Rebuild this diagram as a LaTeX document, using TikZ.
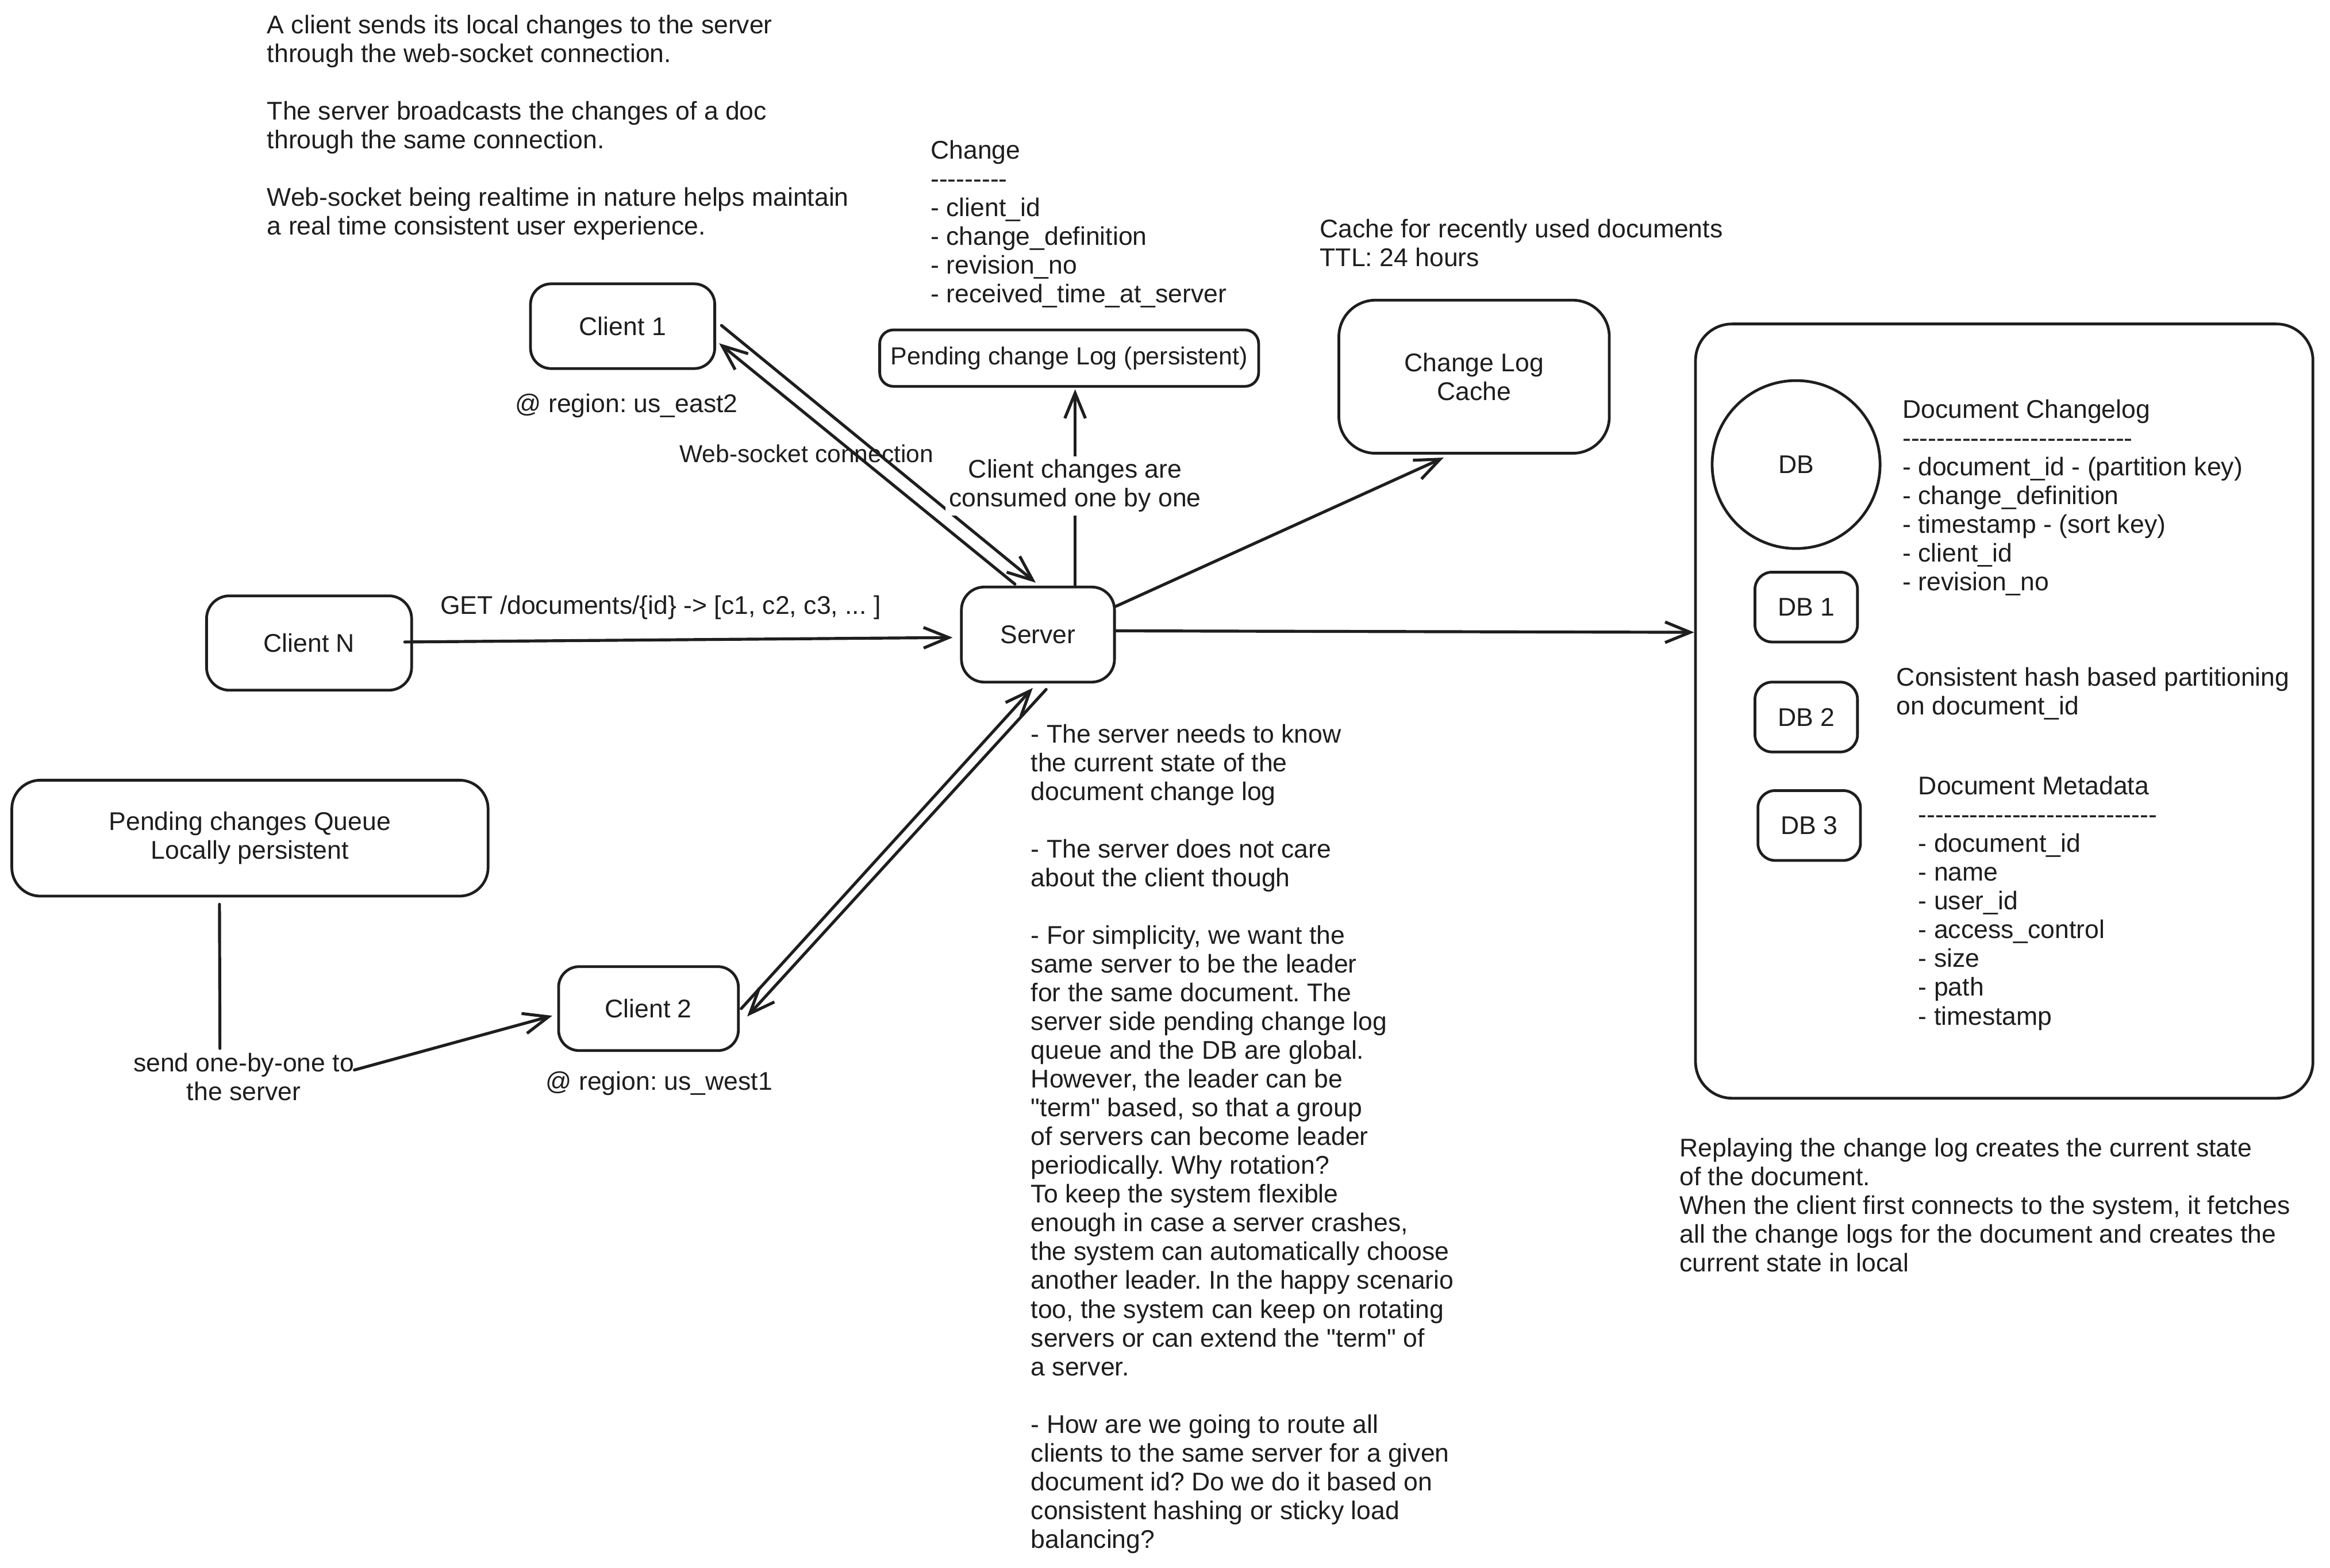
\documentclass[tikz,border=0pt]{standalone}
\usepackage{fontspec}
\newfontfamily\hand{Liberation Sans}
\usetikzlibrary{arrows.meta,calc}
\definecolor{ink}{HTML}{1E1E1E}
\frenchspacing
\begin{document}
\begin{tikzpicture}[x=0.65pt,y=-0.65pt,
  every node/.style={font=\hand\fontsize{11.2}{12.58}\selectfont, inner sep=0pt, text=ink},
  box/.style={draw=ink, line width=1.2pt, fill=white, rounded corners=#1, align=center},
  conn/.style={draw=ink, line width=1.3pt, line cap=round},
  arr/.style={conn, -{Straight Barb[length=11pt,width=9pt]}},
  txt/.style={align=left, anchor=north west},
  lbl/.style={anchor=base west}]
\useasboundingbox[fill=white] (0,0) rectangle (1568,1055);

% ---------- boxes ----------
\node[box=9pt, minimum width=124*0.65pt, minimum height=57*0.65pt] (client1) at (419,219.5) {Client 1};
\node[box=6pt, minimum width=255*0.65pt, minimum height=38*0.65pt, font=\hand\fontsize{10.8}{12.58}\selectfont] (pendlog) at (719.5,241) {Pending change Log (persistent)};
\node[box=16pt, minimum width=182*0.65pt, minimum height=103*0.65pt] (cache) at (992,253.5) {Change Log\\Cache};
\node[box=16pt, minimum width=415.5*0.65pt, minimum height=521*0.65pt] (dbbox) at (1348.75,478.5) {};
\node[draw=ink, line width=1.2pt, circle, fill=white, minimum size=113*0.65pt] (dbc) at (1208.7,312.6) {DB};
\node[box=7.5pt, minimum width=69*0.65pt, minimum height=47*0.65pt] (db1) at (1215.5,408.5) {DB 1};
\node[box=7.5pt, minimum width=69*0.65pt, minimum height=47*0.65pt] (db2) at (1215.5,482.5) {DB 2};
\node[box=7.5pt, minimum width=69*0.65pt, minimum height=47*0.65pt] (db3) at (1217.5,555.5) {DB 3};
\node[box=10pt, minimum width=138*0.65pt, minimum height=63.5*0.65pt] (clientN) at (208,432.7) {Client N};
\node[box=10pt, minimum width=103*0.65pt, minimum height=64*0.65pt] (server) at (698.5,427) {Server};
\node[box=12.5pt, minimum width=320.5*0.65pt, minimum height=78*0.65pt] (queue) at (168.2,564) {Pending changes Queue\\Locally persistent};
\node[box=9pt, minimum width=121*0.65pt, minimum height=56.5*0.65pt] (client2) at (436.4,678.7) {Client 2};

% ---------- free texts ----------
\node[txt] (intro) at (179.5,9.8) {A client sends its local changes to the server\\through the web-socket connection.\\[12.58pt]The server broadcasts the changes of a doc\\through the same connection.\\[12.58pt]Web-socket being realtime in nature helps maintain\\a real time consistent user experience.};
\node[txt] (changedef) at (626,94) {Change\\---------\\- client\_id\\- change\_definition\\- revision\_no\\- received\_time\_at\_server};
\node[txt] (cachenote) at (888,147) {Cache for recently used documents\\TTL: 24 hours};
\node[txt] (changelog) at (1280,268.5) {Document Changelog\\---------------------------\\- document\_id - (partition key)\\- change\_definition\\- timestamp - (sort key)\\- client\_id\\- revision\_no};
\node[txt] (hashnote) at (1276,449) {Consistent hash based partitioning\\on document\_id};
\node[txt] (metadata) at (1290.7,522) {Document Metadata\\----------------------------\\- document\_id\\- name\\- user\_id\\- access\_control\\- size\\- path\\- timestamp};
\node[txt] (replay) at (1130,765.5) {Replaying the change log creates the current state\\of the document.\\When the client first connects to the system, it fetches\\all the change logs for the document and creates the\\current state in local};
\node[txt] (notes) at (693.5,487) {- The server needs to know\\the current state of the\\document change log\\[12.58pt]- The server does not care\\about the client though\\[12.58pt]- For simplicity, we want the\\same server to be the leader\\for the same document. The\\server side pending change log\\queue and the DB are global.\\However, the leader can be\\"term" based, so that a group\\of servers can become leader\\periodically. Why rotation?\\To keep the system flexible\\enough in case a server crashes,\\the system can automatically choose\\another leader. In the happy scenario\\too, the system can keep on rotating\\servers or can extend the "term" of\\a server.\\[12.58pt]- How are we going to route all\\clients to the same server for a given\\document id? Do we do it based on\\consistent hashing or sticky load\\balancing?};
\node[lbl] (east2) at (346.5,277.5) {@ region: us\_east2};
\node[lbl] (west1) at (367,733.5) {@ region: us\_west1};

% ---------- connectors ----------
\draw[arr] ($(client1.east)+(3.6,-0.5)$) -- ($(server.north)+(-1.5,-2)$);
\draw[arr] ($(server.north)+(-15.5,-1)$) -- ($(client1.east)+(2,11.5)$);
\node[lbl, font=\hand\fontsize{10.7}{12.58}\selectfont] (wslbl) at (457,311) {Web-socket connection};

\draw[arr] ($(client2.east)+(1,0)$) -- ($(server.south)+(-3.5,3)$);
\draw[arr] ($(server.south)+(5.5,4)$) -- ($(client2.east)+(5,5.3)$);

\draw[arr] ($(clientN.east)+(-5.5,-0.7)$) -- ($(server.west)+(-5,2)$);
\node[lbl] (getlbl) at (296,413.3) {GET /documents/\{id\} -> [c1, c2, c3, ... ]};

\draw[arr] ($(server.north)+(25,0)$) -- ($(pendlog.south)+(4,1)$);
\node[fill=white, align=center, inner sep=1.5pt] (cclbl) at (723.5,327) {Client changes are\\consumed one by one};

\draw[arr] ($(server.east)+(0,-19)$) -- ($(cache.south)+(-20.5,2)$);
\draw[arr] ($(server.east)+(0,-2.5)$) -- ($(dbbox.west)+(0,-53)$);

\coordinate (qbend) at (148,705.5);
\coordinate (qresume) at (238.5,720);
\draw[conn] ($(queue.south)+(-20.5,4.6)$) -- (qbend);
\draw[arr] (qresume) -- ($(client2.west)+(-3.3,4.8)$);
\node[align=center] (sendlbl) at (164,724.5) {send one-by-one to\\the server};
\end{tikzpicture}
\end{document}
